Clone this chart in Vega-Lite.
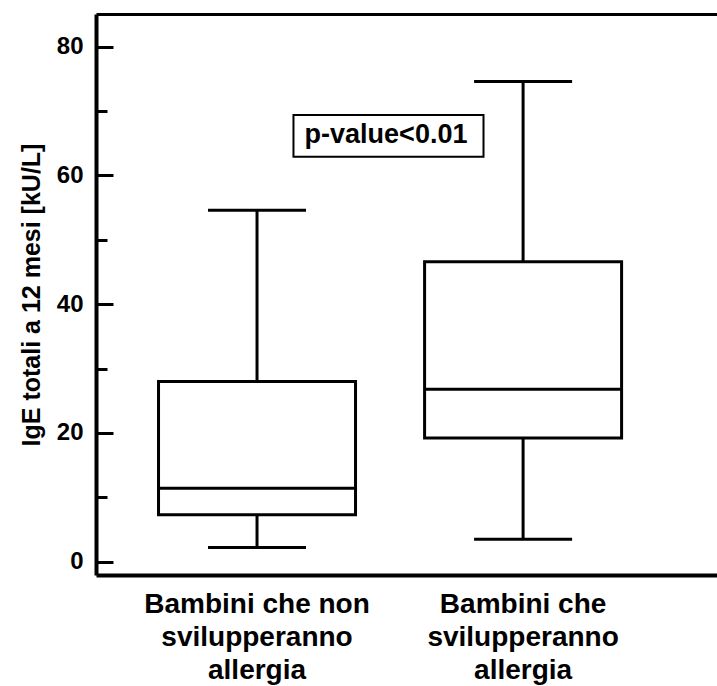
{
  "$schema": "https://vega.github.io/schema/vega-lite/v6.json",
  "width": 621,
  "height": 561,
  "autosize": {"type": "none"},
  "padding": {"left": 96, "top": 14, "right": 0, "bottom": 111},
  "background": "white",
  "config": {
    "view": {"stroke": null},
    "font": "Liberation Sans",
    "axisY": {
      "titleFont": "Liberation Sans",
      "titleFontSize": 25,
      "titleFontWeight": "bold",
      "titleColor": "black",
      "titlePadding": 12,
      "labelFont": "Liberation Sans",
      "labelFontSize": 24,
      "labelFontWeight": "bold",
      "labelColor": "black",
      "labelPadding": 30,
      "tickSize": -17,
      "tickWidth": 3,
      "tickColor": "black",
      "domainColor": "black",
      "domainWidth": 4,
      "grid": false
    },
    "axisX": {
      "labelFont": "Liberation Sans",
      "labelFontSize": 28,
      "labelFontWeight": "bold",
      "labelColor": "black",
      "labelLineHeight": 33,
      "labelPadding": 15,
      "labelAngle": 0,
      "labelLimit": 0,
      "ticks": false,
      "domainColor": "black",
      "domainWidth": 4,
      "grid": false
    }
  },
  "layer": [
    {
      "data": {"values": [
        {"gruppo": "Bambini che non svilupperanno allergia", "min": 2.2, "q1": 7.3, "mediana": 11.4, "q3": 28.0, "max": 54.6},
        {"gruppo": "Bambini che svilupperanno allergia", "min": 3.5, "q1": 19.2, "mediana": 26.8, "q3": 46.6, "max": 74.6}
      ]},
      "encoding": {
        "x": {
          "field": "gruppo", "type": "nominal", "sort": null,
          "scale": {"paddingInner": 0, "paddingOuter": 0.167, "align": 0.315},
          "axis": {
            "title": null,
            "labelExpr": "datum.value == 'Bambini che non svilupperanno allergia' ? ['Bambini che non', 'svilupperanno', 'allergia'] : ['Bambini che', 'svilupperanno', 'allergia']"
          }
        }
      },
      "layer": [
        {
          "mark": {"type": "rule", "color": "black", "strokeWidth": 3},
          "encoding": {
            "y": {
              "field": "min", "type": "quantitative", "title": "IgE totali a 12 mesi [kU/L]",
              "scale": {"domain": [-2.07, 85.08], "nice": false, "zero": false},
              "axis": {
                "values": [0, 10, 20, 30, 40, 50, 60, 70, 80],
                "title": "IgE totali a 12 mesi [kU/L]",
                "labelExpr": "datum.value % 20 === 0 ? datum.label : ''",
                "tickSize": {"condition": {"test": "datum.value % 20 === 0", "value": -17}, "value": -11}
              }
            },
            "y2": {"field": "max"}
          }
        },
        {
          "mark": {"type": "bar", "width": 197, "fill": "white", "stroke": "black", "strokeWidth": 3},
          "encoding": {
            "y": {"field": "q1", "type": "quantitative", "title": "IgE totali a 12 mesi [kU/L]"},
            "y2": {"field": "q3"}
          }
        },
        {
          "mark": {"type": "tick", "size": 197, "thickness": 3, "color": "black", "opacity": 1},
          "encoding": {
            "y": {"field": "mediana", "type": "quantitative", "title": "IgE totali a 12 mesi [kU/L]"}
          }
        },
        {
          "mark": {"type": "tick", "size": 98, "thickness": 3, "color": "black", "opacity": 1},
          "encoding": {
            "y": {"field": "min", "type": "quantitative", "title": "IgE totali a 12 mesi [kU/L]"}
          }
        },
        {
          "mark": {"type": "tick", "size": 98, "thickness": 3, "color": "black", "opacity": 1},
          "encoding": {
            "y": {"field": "max", "type": "quantitative", "title": "IgE totali a 12 mesi [kU/L]"}
          }
        }
      ]
    },
    {
      "data": {"values": [
        {"testo": "p-value<0.01", "x1": 0.318, "x2": 0.624, "xt": 0.467, "y1": 62.9, "y2": 69.4, "yt": 65.0}
      ]},
      "encoding": {
        "x": {
          "field": "x1", "type": "quantitative",
          "scale": {"domain": [0, 1], "nice": false, "zero": false},
          "axis": {"orient": "top", "labels": false, "ticks": false, "title": null, "domainColor": "black", "domainWidth": 3, "grid": false}
        }
      },
      "layer": [
        {
          "mark": {"type": "rect", "fill": "white", "stroke": "black", "strokeWidth": 2},
          "encoding": {
            "x2": {"field": "x2"},
            "y": {"field": "y1", "type": "quantitative", "title": "IgE totali a 12 mesi [kU/L]"},
            "y2": {"field": "y2"}
          }
        },
        {
          "mark": {"type": "text", "font": "Liberation Sans", "fontSize": 27, "fontWeight": "bold", "color": "black", "align": "center", "baseline": "alphabetic"},
          "encoding": {
            "x": {"field": "xt", "type": "quantitative", "scale": {"domain": [0, 1], "nice": false, "zero": false}, "axis": {"orient": "top", "labels": false, "ticks": false, "title": null, "domainColor": "black", "domainWidth": 3, "grid": false}},
            "y": {"field": "yt", "type": "quantitative", "title": "IgE totali a 12 mesi [kU/L]"},
            "text": {"field": "testo"}
          }
        }
      ]
    }
  ],
  "resolve": {"scale": {"x": "independent"}, "axis": {"x": "independent"}}
}
